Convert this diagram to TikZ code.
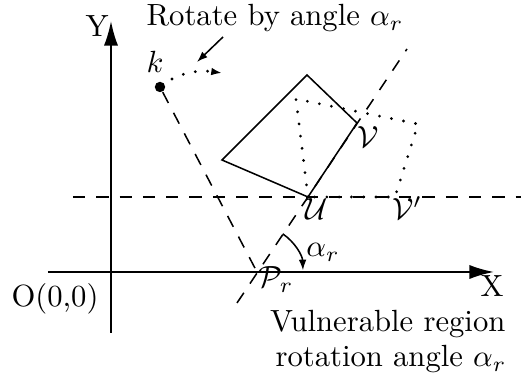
\documentclass[tikz,border=0pt]{standalone}
\usetikzlibrary{arrows.meta}
\begin{document}
\begin{tikzpicture}[x=0.3262pt,y=-0.3262pt,
  axisline/.style={line width=0.6pt,-{Latex[length=8pt,width=4.6pt]}},
  dashline/.style={line width=0.5pt,dash pattern=on 4pt off 3.6pt},
  dotline/.style={line width=1pt,line cap=round,dash pattern=on 0pt off 4pt},
  solidline/.style={line width=0.5pt},
  smalltip/.style={-{Latex[length=3.5pt,width=2.5pt]}},
  lbl/.style={inner sep=0pt,anchor=base}]
\useasboundingbox (0,0) rectangle (523,378);
% axes
\coordinate (xs) at (48,272);
\coordinate (xe) at (494,272);
\coordinate (ys) at (111,333);
\coordinate (ye) at (111,21);
\draw[axisline] (xs) -- (xe);
\draw[axisline] (ys) -- (ye);
\node[lbl] (ylab) at (97,37) {Y};
\node[lbl] (xlab) at (492,297) {X};
\node[lbl] (olab) at (55,307) {O(0,0)};
% horizontal dashed line
\coordinate (hl) at (73,197);
\coordinate (hr) at (521,197);
\draw[dashline] (hl) -- (hr);
% point k
\node[circle,fill,inner sep=0pt,minimum size=3.4pt] (k) at (160,87) {};
\node[lbl] (klab) at (155,73) {$k$};
\coordinate (Pr) at (257,272);
\draw[dashline] (k) -- (Pr);
% rotated dashed line
\coordinate (L1) at (237,303);
\coordinate (L2) at (407,49);
\draw[dashline] (L1) -- (L2);
% solid region
\coordinate (Q1) at (307,75);
\coordinate (Q2) at (222,160);
\coordinate (U) at (308,197);
\coordinate (V) at (357,123);
\draw[solidline] (Q1) -- (Q2) -- (U) -- (V) -- cycle;
% dotted rotated region
\coordinate (D1) at (296,99);
\coordinate (D2) at (418,124);
\coordinate (Vp) at (395,197);
\draw[dotline] (U) -- (D1) -- (D2) -- (Vp) -- cycle;
% labels
\node[lbl] (vlab) at (368,148) {$\mathcal{V}$};
\node[lbl] (ulab) at (317,220) {$\mathcal{U}$};
\node[lbl] (vplab) at (407,220) {$\mathcal{V}'$};
\node[lbl] (prlab) at (276,288) {$\mathcal{P}_r$};
\node[lbl] (alab) at (323,257) {$\alpha_r$};
% angle arc
\draw[solidline,smalltip] (Pr) ++(-56:46) arc[start angle=-56,end angle=-2,radius=46];
% rotate arrow
\coordinate (c1) at (172,79);
\coordinate (c2) at (222,73);
\draw[dotline,smalltip] (c1) .. controls (185,72) and (200,70) .. (c2);
\node[lbl] (rot) at (275,26) {Rotate by angle $\alpha_r$};
\coordinate (a1) at (223,37);
\coordinate (a2) at (197,62);
\draw[solidline,smalltip] (a1) -- (a2);
% bottom text
\node[lbl,anchor=base east] (vr1) at (506,332) {Vulnerable region};
\node[lbl,anchor=base east] (vr2) at (507,367) {rotation angle $\alpha_r$};
\end{tikzpicture}
\end{document}
